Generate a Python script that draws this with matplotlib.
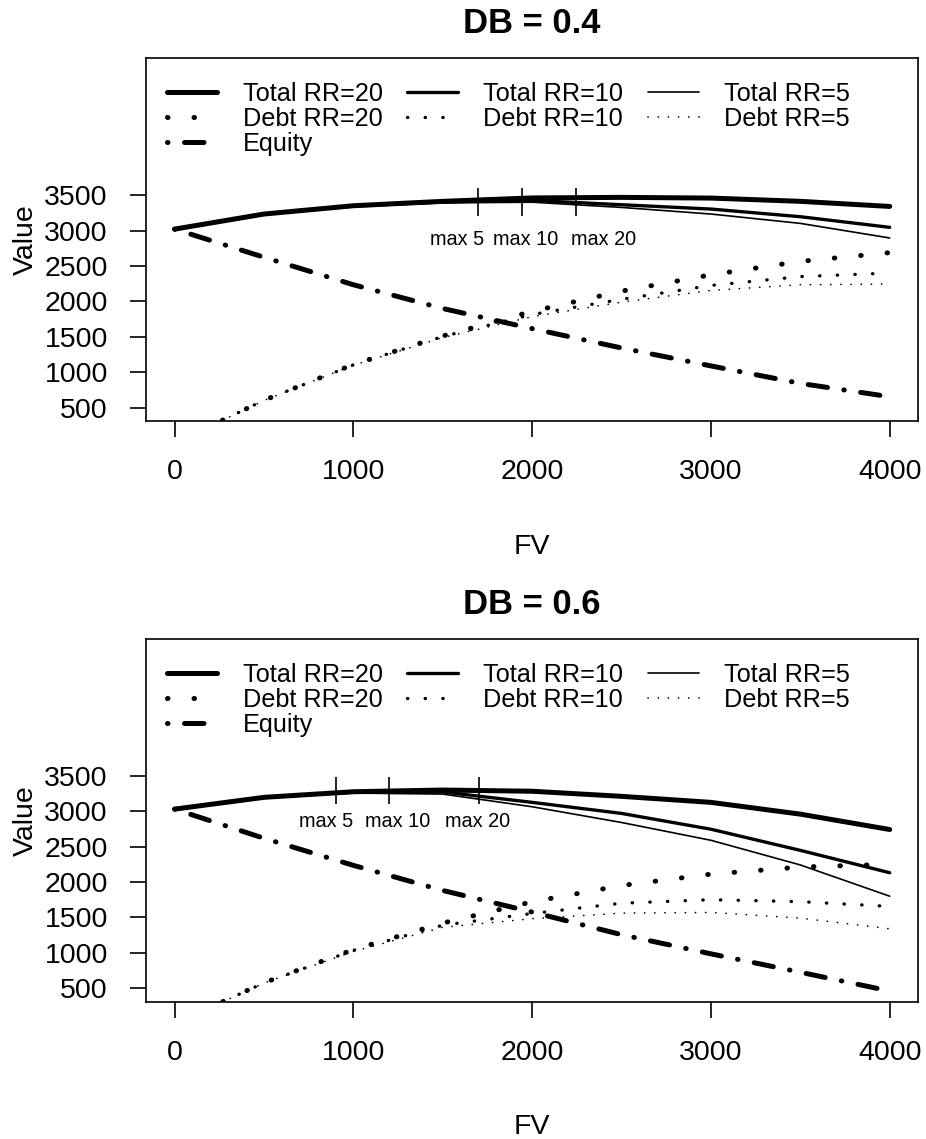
import matplotlib
matplotlib.use("Agg")
from matplotlib import pyplot as plt

plt.rcParams["font.family"] = ["Liberation Sans", "DejaVu Sans"]

fv = [0, 500, 1000, 1500, 2000, 2500, 3000, 3500, 4000]
rr_values = [20, 10, 5]

# DB = 0.4
total20_a = [3020, 3233, 3350, 3412, 3460, 3468, 3458, 3412, 3340]
total10_a = [3020, 3232, 3345, 3405, 3425, 3364, 3303, 3195, 3045]
total5_a = [3020, 3230, 3340, 3390, 3400, 3326, 3233, 3101, 2895]
debt20_a = [0, 605, 1110, 1512, 1860, 2145, 2375, 2565, 2688]
debt10_a = [0, 605, 1105, 1505, 1815, 2030, 2225, 2350, 2400]
debt5_a = [0, 603, 1100, 1490, 1785, 1990, 2155, 2235, 2245]
equity_a = [3020, 2623, 2235, 1900, 1616, 1343, 1090, 843, 655]
max_fv_a = [1698, 1944, 2246]
max_span_a = [3200, 3595]
label_fv_a = [1581, 1966, 2397]
label_y_a = 2878

# DB = 0.6
total20_b = [3028, 3194, 3273, 3297, 3280, 3208, 3123, 2957, 2740]
total10_b = [3028, 3192, 3269, 3270, 3123, 2967, 2744, 2446, 2130]
total5_b = [3028, 3190, 3254, 3240, 3061, 2839, 2588, 2240, 1799]
debt20_b = [0, 578, 1045, 1420, 1720, 1950, 2110, 2210, 2250]
debt10_b = [0, 576, 1035, 1390, 1555, 1700, 1750, 1722, 1655]
debt5_b = [0, 574, 1020, 1360, 1482, 1560, 1570, 1490, 1340]
equity_b = [3028, 2616, 2234, 1880, 1575, 1256, 986, 726, 461]
max_fv_b = [900, 1201, 1702]
max_span_b = [3102, 3478]
label_fv_b = [848, 1250, 1697]
label_y_b = 2857

max_labels = ["max 5", "max 10", "max 20"]
x_ticks = [0, 1000, 2000, 3000, 4000]
y_ticks = [500, 1000, 1500, 2000, 2500, 3000, 3500]


def draw_panel(ax, title, totals, debts, equity, max_fv, max_span, label_fv, label_y):
    widths = [3.6, 2.4, 1.2]
    dot_gaps = [5.2, 5.2, 6.0]
    tot_lines = []
    debt_lines = []
    for rr, tot, debt, lw, gap in zip(rr_values, totals, debts, widths, dot_gaps):
        (lt,) = ax.plot(fv, tot, color="black", lw=lw, solid_capstyle="round",
                        solid_joinstyle="round", label=f"Total RR={rr}")
        (ld,) = ax.plot(fv, debt, color="black", lw=lw, dashes=(0.1, gap),
                        dash_capstyle="round", label=f"Debt RR={rr}")
        tot_lines.append(lt)
        debt_lines.append(ld)
    (le,) = ax.plot(fv, equity, color="black", lw=3.6, dashes=(0.1, 3.3, 3.9, 3.3),
                    dash_capstyle="round", label="Equity")

    # markers of the maxima
    ax.vlines(max_fv, max_span[0], max_span[1], color="black", lw=1.2)
    for x, lab in zip(label_fv, max_labels):
        ax.text(x, label_y, lab, ha="center", va="center", fontsize=14.3)

    handles = [tot_lines[0], debt_lines[0], le, tot_lines[1], debt_lines[1],
               tot_lines[2], debt_lines[2]]
    ax.legend(handles=handles, ncol=3, loc="upper left", bbox_to_anchor=(0.027, 0.934),
              frameon=False, fontsize=18.2, handlelength=2.0, handletextpad=1.0,
              columnspacing=0.98, labelspacing=0.04, borderpad=0, borderaxespad=0)

    ax.set_xlim(-160, 4160)
    ax.set_ylim(313, 5430)
    ax.set_xticks(x_ticks)
    ax.set_yticks(y_ticks)
    ax.tick_params(length=11.5, width=1.2, pad=16, labelsize=20.5)
    for sp in ax.spines.values():
        sp.set_linewidth(1.2)
    ax.set_title(title, fontsize=24.9, fontweight="bold", pad=18)
    ax.set_xlabel("FV", fontsize=20.5, labelpad=35)
    ax.set_ylabel("Value", fontsize=20.5, labelpad=4)


fig = plt.figure(figsize=(9.26, 11.39), dpi=100)
ax1 = fig.add_axes([0.1577, 0.6304, 0.8340, 0.3184])
ax2 = fig.add_axes([0.1577, 0.1207, 0.8340, 0.3184])

draw_panel(ax1, "DB = 0.4", [total20_a, total10_a, total5_a], [debt20_a, debt10_a, debt5_a],
           equity_a, max_fv_a, max_span_a, label_fv_a, label_y_a)
draw_panel(ax2, "DB = 0.6", [total20_b, total10_b, total5_b], [debt20_b, debt10_b, debt5_b],
           equity_b, max_fv_b, max_span_b, label_fv_b, label_y_b)

fig.savefig("out.png", dpi=100)
